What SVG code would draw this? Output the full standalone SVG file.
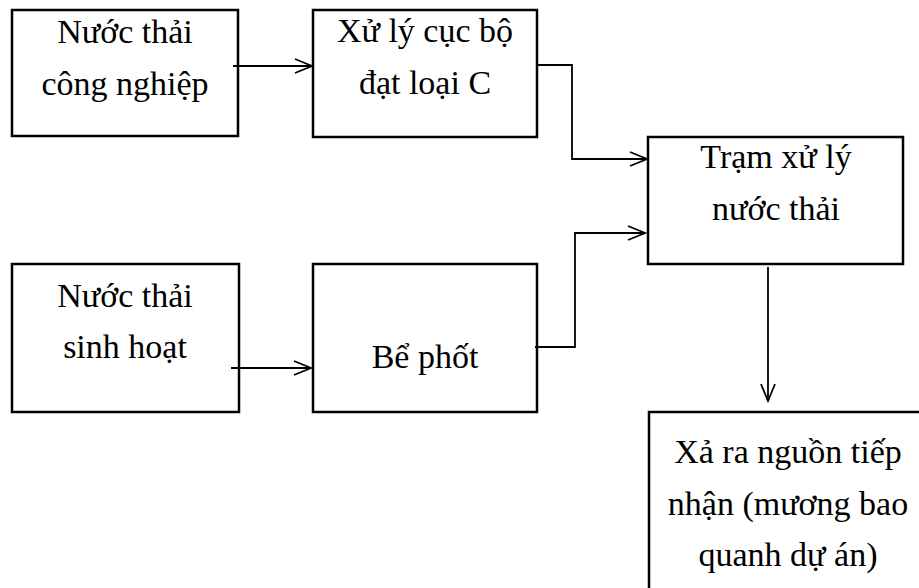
<svg xmlns="http://www.w3.org/2000/svg" width="919" height="588" viewBox="0 0 919 588">
  <style>
    .box { fill: #ffffff; stroke: #000000; stroke-width: 2.5; }
    .lbl { font-family: "Liberation Serif", "Times New Roman", serif; font-size: 34px; fill: #000000; text-anchor: middle; }
    .conn { fill: none; stroke: #000000; stroke-width: 1.8; marker-end: url(#arr); }
  </style>
  <defs>
    <marker id="arr" markerUnits="userSpaceOnUse" orient="auto" markerWidth="24" markerHeight="20" refX="0" refY="0" viewBox="-20 -10 24 20" overflow="visible">
      <path d="M-17,-7 L0,0 L-17,7" fill="none" stroke="#000000" stroke-width="1.8"/>
    </marker>
  </defs>
  <rect width="919" height="588" fill="#ffffff"/>

  <g id="n1">
    <rect class="box" x="12" y="10" width="226" height="126"/>
    <text class="lbl" x="125" y="43">Nước thải</text>
    <text class="lbl" x="125" y="95">công nghiệp</text>
  </g>
  <g id="n2">
    <rect class="box" x="313" y="10" width="224" height="127"/>
    <text class="lbl" x="425" y="42">Xử lý cục bộ</text>
    <text class="lbl" x="425" y="94">đạt loại C</text>
  </g>
  <g id="n3">
    <rect class="box" x="648" y="137" width="255" height="127"/>
    <text class="lbl" x="776" y="168">Trạm xử lý</text>
    <text class="lbl" x="776" y="220">nước thải</text>
  </g>
  <g id="n4">
    <rect class="box" x="12" y="264" width="227" height="148"/>
    <text class="lbl" x="125" y="307">Nước thải</text>
    <text class="lbl" x="125" y="358">sinh hoạt</text>
  </g>
  <g id="n5">
    <rect class="box" x="313" y="264" width="224" height="148"/>
    <text class="lbl" x="425" y="368">Bể phốt</text>
  </g>
  <g id="n6">
    <rect class="box" x="649" y="412" width="278" height="200"/>
    <text class="lbl" x="788" y="463">Xả ra nguồn tiếp</text>
    <text class="lbl" x="788" y="515">nhận (mương bao</text>
    <text class="lbl" x="788" y="566">quanh dự án)</text>
  </g>

  <g id="connectors">
    <path class="conn" d="M233,66 L312,66"/>
    <path class="conn" d="M537,65 L572,65 L572,159 L647,159"/>
    <path class="conn" d="M535,347 L575,347 L575,233 L645,233"/>
    <path class="conn" d="M768,267 L768,401"/>
    <path class="conn" d="M231,368 L311,368"/>
  </g>
</svg>
